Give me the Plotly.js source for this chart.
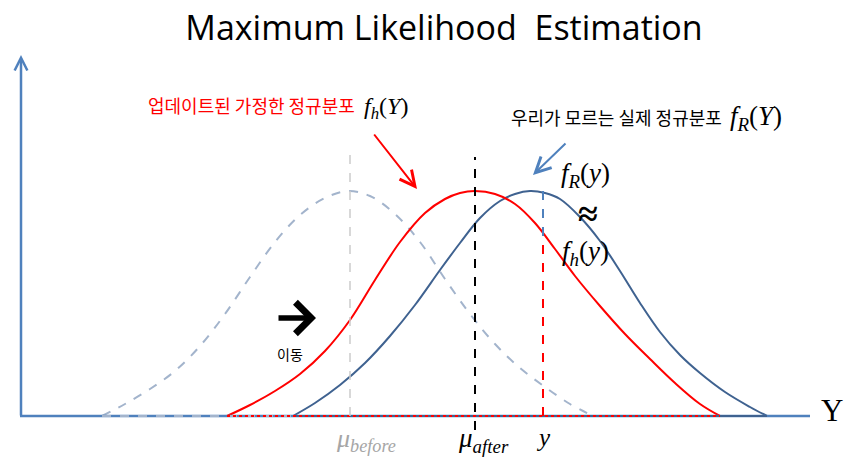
<!DOCTYPE html>
<html>
<head>
<meta charset="utf-8">
<script src="https://cdn.plot.ly/plotly-3.0.1.min.js"></script>
<style>html,body{margin:0;padding:0;background:#fff;}#chart{width:854px;height:470px;}</style>
</head>
<body>
<div id="chart"></div>
<script>
// Curve samples: x position along Y, height above the baseline
const beforeX = [102,125,150,175,200,225,250,275,300,325,348,370,395,420,445,470,495,520,545,570,593];
const beforeY = [0,12,27,45,70,102,139,174,201,218,225,220,202,174,137,102,72,48,29,12,0];

const hypX = [227,250,275,300,325,350,375,400,425,445,460,475,495,515,535,555,575,600,625,650,675,700,720];
const hypY = [0,11,25,42,65,96,136,174,203,217,223,225,222,212,193,167,140,110,82,57,33,12,0];

const realX = [293,315,340,365,390,415,440,460,480,500,515,530,545,560,580,600,620,640,660,680,700,725,750,767];
const realY = [0,13,31,53,80,111,146,173,198,215,222,225,223,217,199,175,145,113,84,61,43,24,9,0];

// Marked positions on Y: mu_before, mu_after, observed y
const markX = [350, 475, 543];
// values of f_R(y) and f_h(y) at the observed y
const atObs = [225, 180];

const titleText = 'Maximum Likelihood  Estimation';

const colBefore = '#a3b4cc', colReal = '#3f6290', colHyp = '#ff0000', colAxis = '#4f81bd';

const traces = [
  {x: beforeX, y: beforeY, mode: 'lines', line: {color: colBefore, width: 2, dash: 'dash', shape: 'spline', smoothing: 1}},
  {x: realX, y: realY, mode: 'lines', line: {color: colReal, width: 2, shape: 'spline', smoothing: 1}},
  {x: hypX, y: hypY, mode: 'lines', line: {color: colHyp, width: 2, shape: 'spline', smoothing: 1}}
];

const serif = 'Liberation Serif, Times New Roman, serif';
const kr = 'Noto Sans CJK KR, sans-serif';

function txt(x, y, text, size, color, family) {
  return {x: x, y: y, xref: 'x', yref: 'y', text: text, showarrow: false,
          xanchor: 'center', yanchor: 'middle',
          font: {size: size, color: color || '#000', family: family || serif}};
}
function arrow(x, y, ax, ay, color, width, head, size) {
  return {x: x, y: y, ax: ax, ay: ay, xref: 'x', yref: 'y', axref: 'x', ayref: 'y',
          text: '', showarrow: true, arrowcolor: color, arrowwidth: width,
          arrowhead: head, arrowsize: size, standoff: 0, startstandoff: 0};
}

const annotations = [
  txt(251, 311, '업데이트된 가정한 정규분포', 18, colHyp, kr),
  txt(386, 308, '<i>f</i><sub><i>h</i></sub>(<i>Y</i>)', 24),
  txt(616, 299, '우리가 모르는 실제 정규분포', 18, '#000', kr),
  txt(756, 298, '<i>f</i><sub><i>R</i></sub>(<i>Y</i>)', 27),
  txt(585, 241, '<i>f</i><sub><i>R</i></sub>(<i>y</i>)', 27),
  txt(588, 202, '<b>≈</b>', 36),
  txt(585, 163, '<i>f</i><sub><i>h</i></sub>(<i>y</i>)', 27),
  txt(290, 62, '이동', 14, '#000', kr),
  txt(366, -24, '<i>μ</i><sub><i>before</i></sub>', 26, '#a6a6a6'),
  txt(483, -24, '<i>μ</i><sub><i>after</i></sub>', 27, '#000'),
  txt(markX[2], -21, '<i>y</i>', 25, '#000'),
  txt(832, 6, 'Y', 31, '#000'),
  arrow(417, 227, 373, 283, colHyp, 2, 5, 1.5),
  arrow(533, 241, 567, 274, colAxis, 2, 5, 1.5),
  arrow(316, 98, 277, 98, '#000', 5.5, 4, 1.1),
  arrow(21, 361, 21, -1, colAxis, 2.5, 5, 1)
];

function hline(x0, x1, color, width, dash) {
  return {type: 'line', xref: 'x', yref: 'y', x0: x0, x1: x1, y0: 0, y1: 0, line: {color: color, width: width, dash: dash || 'solid'}};
}
function vline(x, y0, y1, color, width, dash) {
  return {type: 'line', xref: 'x', yref: 'y', x0: x, x1: x, y0: y0, y1: y1, line: {color: color, width: width, dash: dash || 'solid'}};
}

const shapes = [
  hline(20, 810, colAxis, 2.5),
  hline(beforeX[0], beforeX[beforeX.length - 1], colBefore, 2, 'dash'),
  hline(realX[0], realX[realX.length - 1], colReal, 2),
  hline(hypX[0], hypX[hypX.length - 1], colHyp, 2, 'dot'),
  vline(markX[0], 0, 268, '#cccccc', 1.5, 'dash'),
  vline(markX[1], -14, 259, '#000', 2, 'dash'),
  vline(markX[2], atObs[1], atObs[0], colAxis, 2, 'dash'),
  vline(markX[2], 0, atObs[1], colHyp, 2, 'dash')
];

const layout = {
  width: 854, height: 470,
  margin: {l: 0, r: 0, t: 0, b: 0},
  paper_bgcolor: '#fff', plot_bgcolor: '#fff',
  showlegend: false,
  title: {text: titleText, x: 444/854, xanchor: 'center', y: 1 - 28/470, yanchor: 'middle', yref: 'container',
          font: {family: 'Open Sans, Noto Sans, sans-serif', size: 34, color: '#000'}},
  xaxis: {range: [0, 854], visible: false, fixedrange: true},
  yaxis: {range: [-54, 416], visible: false, fixedrange: true},
  annotations: annotations,
  shapes: shapes,
  hovermode: false
};

Plotly.newPlot('chart', traces, layout, {staticPlot: true, displayModeBar: false});
</script>
</body>
</html>
